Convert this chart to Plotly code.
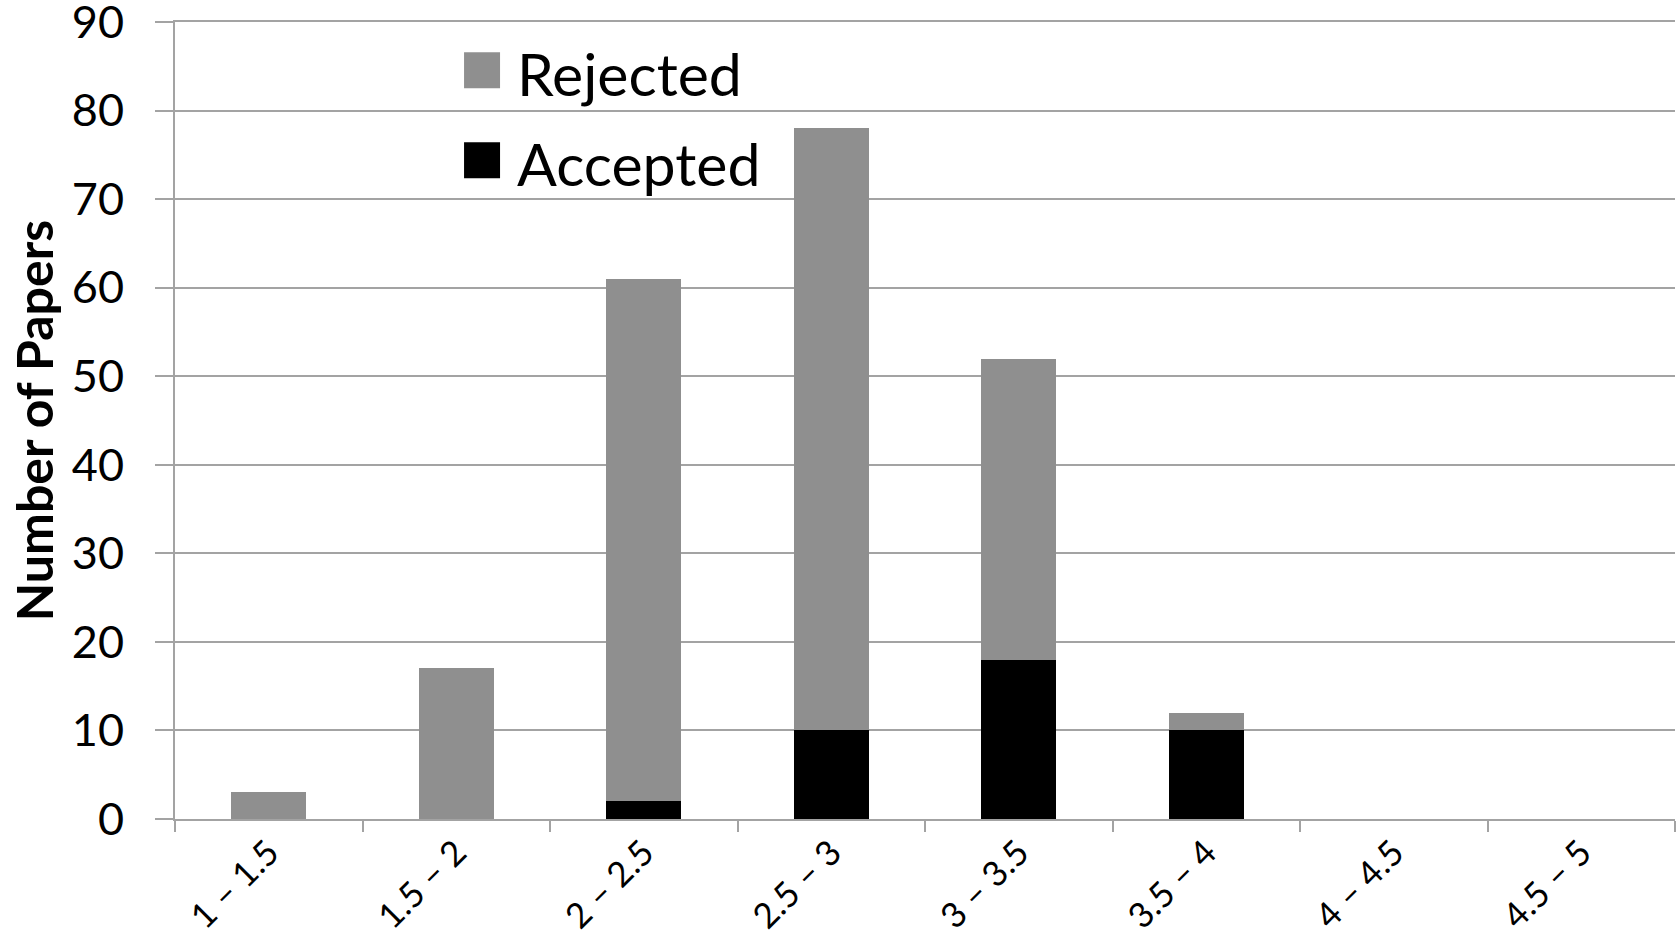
import plotly.graph_objects as go

categories = ["1 – 1.5", "1.5 – 2", "2 – 2.5", "2.5 – 3", "3 – 3.5", "3.5 – 4", "4 – 4.5", "4.5 – 5"]
accepted = [0, 0, 2, 10, 18, 10, 0, 0]
rejected = [3, 17, 59, 68, 34, 2, 0, 0]
series_names = ["Rejected", "Accepted"]
y_ticks = [0, 10, 20, 30, 40, 50, 60, 70, 80, 90]

GRAY = "#8f8f8f"
BLACK = "#000000"
GRID = "#a3a3a3"
FONT = "Lato, 'Open Sans', sans-serif"

fig = go.Figure()
fig.add_trace(go.Bar(x=categories, y=accepted, name=series_names[1],
                     marker=dict(color=BLACK, line=dict(width=0)), showlegend=False))
fig.add_trace(go.Bar(x=categories, y=rejected, name=series_names[0],
                     marker=dict(color=GRAY, line=dict(width=0)), showlegend=False))

# manual legend (large square swatches like the original)
legend_items = [(series_names[0], GRAY, 0.917, 0.962, 0.9355),
                (series_names[1], BLACK, 0.804, 0.849, 0.8225)]
for name, col, y0, y1, yc in legend_items:
    fig.add_shape(type="rect", xref="paper", yref="paper",
                  x0=0.1927, x1=0.2167, y0=y0, y1=y1,
                  fillcolor=col, line=dict(width=0))
    fig.add_annotation(xref="paper", yref="paper", x=0.2267, y=yc,
                       text=name, showarrow=False, xanchor="left", yanchor="middle",
                       font=dict(family=FONT, size=59, color="black"))

fig.update_layout(
    width=1678, height=940,
    barmode="stack", bargap=0.6,
    plot_bgcolor="white", paper_bgcolor="white",
    margin=dict(l=175, r=3, t=22, b=121, autoexpand=False),
    font=dict(family=FONT, color="black"),
    showlegend=False,
)
fig.update_xaxes(
    type="category", tickson="boundaries", ticks="outside", ticklen=11,
    tickwidth=2, tickcolor=GRID, showline=True, linecolor=GRID, linewidth=2,
    mirror=True,
    showgrid=False, tickangle=-45, ticklabelstandoff=-3,
    tickfont=dict(family=FONT, size=35, color="black"),
)
fig.update_yaxes(
    range=[0, 90], tickvals=y_ticks, ticks="outside", ticklen=18, tickwidth=2,
    tickcolor=GRID, showline=True, linecolor=GRID, linewidth=2,
    showgrid=True, gridcolor=GRID, gridwidth=2, zeroline=False,
    ticklabelstandoff=22, ticklabeloverflow="allow",
    tickfont=dict(family=FONT, size=45, color="black"),
    title=dict(text="<b>Number of Papers</b>", standoff=2,
               font=dict(family=FONT, size=50, color="black")),
)

fig.write_html("out.html", config={"displayModeBar": False},
               post_script="document.body.style.margin='0';")
